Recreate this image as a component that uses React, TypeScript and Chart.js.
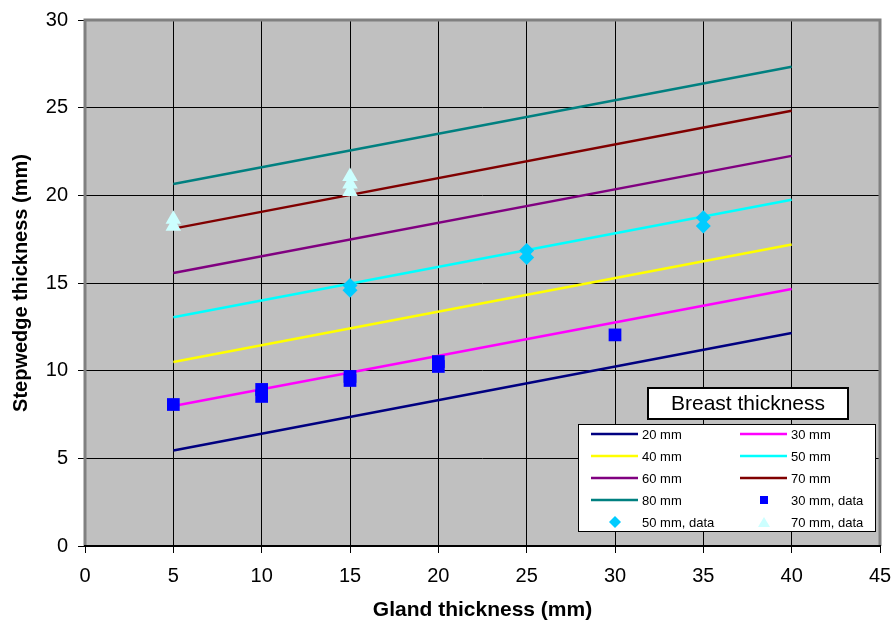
import React, { useEffect, useRef } from 'react';
import { Chart, registerables } from 'chart.js';

Chart.register(...registerables);

const FONT = "'Liberation Sans', Arial, Helvetica, sans-serif";

// Fitted model lines: stepwedge thickness vs gland thickness, one per breast thickness
const fitGland = [5, 40];
const fit20 = [5.45, 12.15];
const fit30 = [7.99, 14.66];
const fit40 = [10.5, 17.2];
const fit50 = [13.05, 19.75];
const fit60 = [15.57, 22.25];
const fit70 = [18.1, 24.82];
const fit80 = [20.65, 27.33];

// Measured phantom data
const meas30Gland = [5, 10, 10, 15, 15, 20, 20, 30];
const meas30Step = [8.07, 8.93, 8.53, 9.67, 9.44, 10.52, 10.24, 12.04];
const meas50Gland = [15, 15, 25, 25, 35, 35];
const meas50Step = [14.86, 14.58, 16.86, 16.46, 18.72, 18.25];
const meas70Gland = [5, 5, 15, 15, 15];
const meas70Step = [18.63, 18.23, 21.08, 20.65, 20.22];

const seriesLabels = [
  '20 mm', '30 mm', '40 mm', '50 mm', '60 mm', '70 mm', '80 mm',
  '30 mm, data', '50 mm, data', '70 mm, data',
];
const lineColors = ['#000080', '#FF00FF', '#FFFF00', '#00FFFF', '#800080', '#800000', '#008080'];
const markerColors = ['#0000FF', '#00CCFF', '#CCFFFF'];

const xLabel = 'Gland thickness (mm)';
const yLabel = 'Stepwedge thickness (mm)';
const legendTitle = 'Breast thickness';

const pts = (xs: number[], ys: number[]) => xs.map((x, i) => ({ x, y: ys[i] }));

const plotBackground = {
  id: 'plotBackground',
  beforeDraw(chart: any) {
    const { ctx, chartArea } = chart;
    ctx.save();
    ctx.fillStyle = '#FFFFFF';
    ctx.fillRect(0, 0, chart.width, chart.height);
    ctx.fillStyle = '#C0C0C0';
    ctx.fillRect(chartArea.left, chartArea.top, chartArea.right - chartArea.left, chartArea.bottom - chartArea.top);
    ctx.restore();
  },
};

const plotFrame = {
  id: 'plotFrame',
  beforeDatasetsDraw(chart: any) {
    const { ctx, chartArea } = chart;
    const { left, right, top, bottom } = chartArea;
    ctx.save();
    ctx.strokeStyle = '#808080';
    ctx.lineWidth = 3;
    ctx.beginPath();
    ctx.moveTo(left, bottom);
    ctx.lineTo(left, top);
    ctx.lineTo(right, top);
    ctx.lineTo(right, bottom);
    ctx.stroke();
    ctx.strokeStyle = '#000000';
    ctx.lineWidth = 2;
    ctx.beginPath();
    ctx.moveTo(left - 1, bottom);
    ctx.lineTo(right + 1, bottom);
    ctx.stroke();
    ctx.restore();
  },
};

function drawMarker(ctx: CanvasRenderingContext2D, style: string, x: number, y: number, color: string) {
  ctx.save();
  ctx.fillStyle = color;
  ctx.beginPath();
  if (style === 'rect') {
    ctx.rect(x - 4, y - 4, 8, 8);
  } else if (style === 'rectRot') {
    ctx.moveTo(x, y - 6);
    ctx.lineTo(x + 6, y);
    ctx.lineTo(x, y + 6);
    ctx.lineTo(x - 6, y);
    ctx.closePath();
  } else {
    ctx.moveTo(x, y - 5);
    ctx.lineTo(x + 6, y + 5);
    ctx.lineTo(x - 6, y + 5);
    ctx.closePath();
  }
  ctx.fill();
  ctx.restore();
}

const breastLegend = {
  id: 'breastLegend',
  afterDraw(chart: any) {
    const { ctx, chartArea } = chart;
    const boxW = 297;
    const boxH = 107;
    const bx = chartArea.right - 5 - boxW;
    const by = chartArea.bottom - 15 - boxH;
    ctx.save();

    // title box
    const tx = bx + 70;
    const ty = by - 36;
    ctx.fillStyle = '#FFFFFF';
    ctx.fillRect(tx, ty, 200, 31);
    ctx.strokeStyle = '#000000';
    ctx.lineWidth = 2;
    ctx.strokeRect(tx, ty, 200, 31);
    ctx.fillStyle = '#000000';
    ctx.font = `21px ${FONT}`;
    ctx.textAlign = 'center';
    ctx.textBaseline = 'middle';
    ctx.fillText(legendTitle, tx + 100, ty + 16);

    // entries box
    ctx.fillStyle = '#FFFFFF';
    ctx.fillRect(bx, by, boxW, boxH);
    ctx.strokeStyle = '#000000';
    ctx.lineWidth = 1;
    ctx.strokeRect(bx + 0.5, by + 0.5, boxW, boxH);

    ctx.font = `13px ${FONT}`;
    ctx.textAlign = 'left';
    chart.data.datasets.forEach((ds: any, i: number) => {
      const col = i % 2;
      const row = Math.floor(i / 2);
      const cy = by + 10 + row * 22;
      const x0 = bx + (col ? 162 : 13);
      if (ds.showLine) {
        ctx.strokeStyle = ds.borderColor;
        ctx.lineWidth = 2.5;
        ctx.beginPath();
        ctx.moveTo(x0, cy);
        ctx.lineTo(x0 + 47, cy);
        ctx.stroke();
      } else {
        drawMarker(ctx, ds.pointStyle, x0 + 24, cy, ds.backgroundColor);
      }
      ctx.fillStyle = '#000000';
      ctx.fillText(ds.label, x0 + 51, cy + 1);
    });
    ctx.restore();
  },
};

export default function App() {
  const canvasRef = useRef<HTMLCanvasElement | null>(null);

  useEffect(() => {
    if (!canvasRef.current) return;
    const fits = [fit20, fit30, fit40, fit50, fit60, fit70, fit80];
    const lineSets = fits.map((f, i) => ({
      label: seriesLabels[i],
      data: pts(fitGland, f),
      showLine: true,
      borderColor: lineColors[i],
      backgroundColor: lineColors[i],
      borderWidth: 2.5,
      pointRadius: 0,
      order: 1,
    }));
    const markerSets = [
      { g: meas30Gland, s: meas30Step, style: 'rect', r: 9 },
      { g: meas50Gland, s: meas50Step, style: 'rectRot', r: 7.5 },
      { g: meas70Gland, s: meas70Step, style: 'triangle', r: 9 },
    ].map((m, i) => ({
      label: seriesLabels[7 + i],
      data: pts(m.g, m.s),
      showLine: false,
      pointStyle: m.style,
      pointRadius: m.r,
      borderWidth: 0,
      pointBorderWidth: 0,
      borderColor: markerColors[i],
      backgroundColor: markerColors[i],
      order: 0,
    }));

    const chart = new Chart(canvasRef.current, {
      type: 'scatter',
      data: { datasets: [...lineSets, ...markerSets] as any },
      plugins: [plotBackground, plotFrame, breastLegend],
      options: {
        responsive: false,
        animation: false,
        layout: { padding: { top: 20, right: 13, left: 0, bottom: 0 } },
        plugins: { legend: { display: false }, tooltip: { enabled: false } },
        scales: {
          x: {
            type: 'linear',
            min: 0,
            max: 45,
            afterFit: (scale: any) => {
              scale.height = 78;
              scale.paddingLeft = 0;
              scale.paddingRight = 0;
            },
            ticks: { stepSize: 5, color: '#000', font: { family: FONT, size: 20 }, padding: 11 },
            grid: {
              color: (c: any) => (c.tick && (c.tick.value === 0 || c.tick.value === 45) ? 'rgba(0,0,0,0)' : '#000000'),
              tickColor: '#000000',
              tickLength: 7,
              lineWidth: 1,
            },
            border: { display: false },
            title: { display: true, text: xLabel, color: '#000', font: { family: FONT, size: 21, weight: 'bold' }, padding: { top: 0, bottom: 1 } },
          },
          y: {
            type: 'linear',
            min: 0,
            max: 30,
            afterFit: (scale: any) => {
              scale.width = 85;
              scale.paddingTop = 0;
              scale.paddingBottom = 0;
            },
            ticks: { stepSize: 5, color: '#000', font: { family: FONT, size: 20 }, padding: 10 },
            grid: {
              color: (c: any) => (c.tick && (c.tick.value === 0 || c.tick.value === 30) ? 'rgba(0,0,0,0)' : '#000000'),
              tickColor: '#000000',
              tickLength: 7,
              lineWidth: 1,
            },
            border: { display: false },
            title: { display: true, text: yLabel, color: '#000', font: { family: FONT, size: 20, weight: 'bold' }, padding: { top: 9, bottom: 0 } },
          },
        },
      } as any,
    });
    return () => chart.destroy();
  }, []);

  return (
    <div style={{ position: 'absolute', left: 0, top: 0, width: 893, height: 624, background: '#fff' }}>
      <canvas ref={canvasRef} width={893} height={624} style={{ display: 'block' }} />
    </div>
  );
}
